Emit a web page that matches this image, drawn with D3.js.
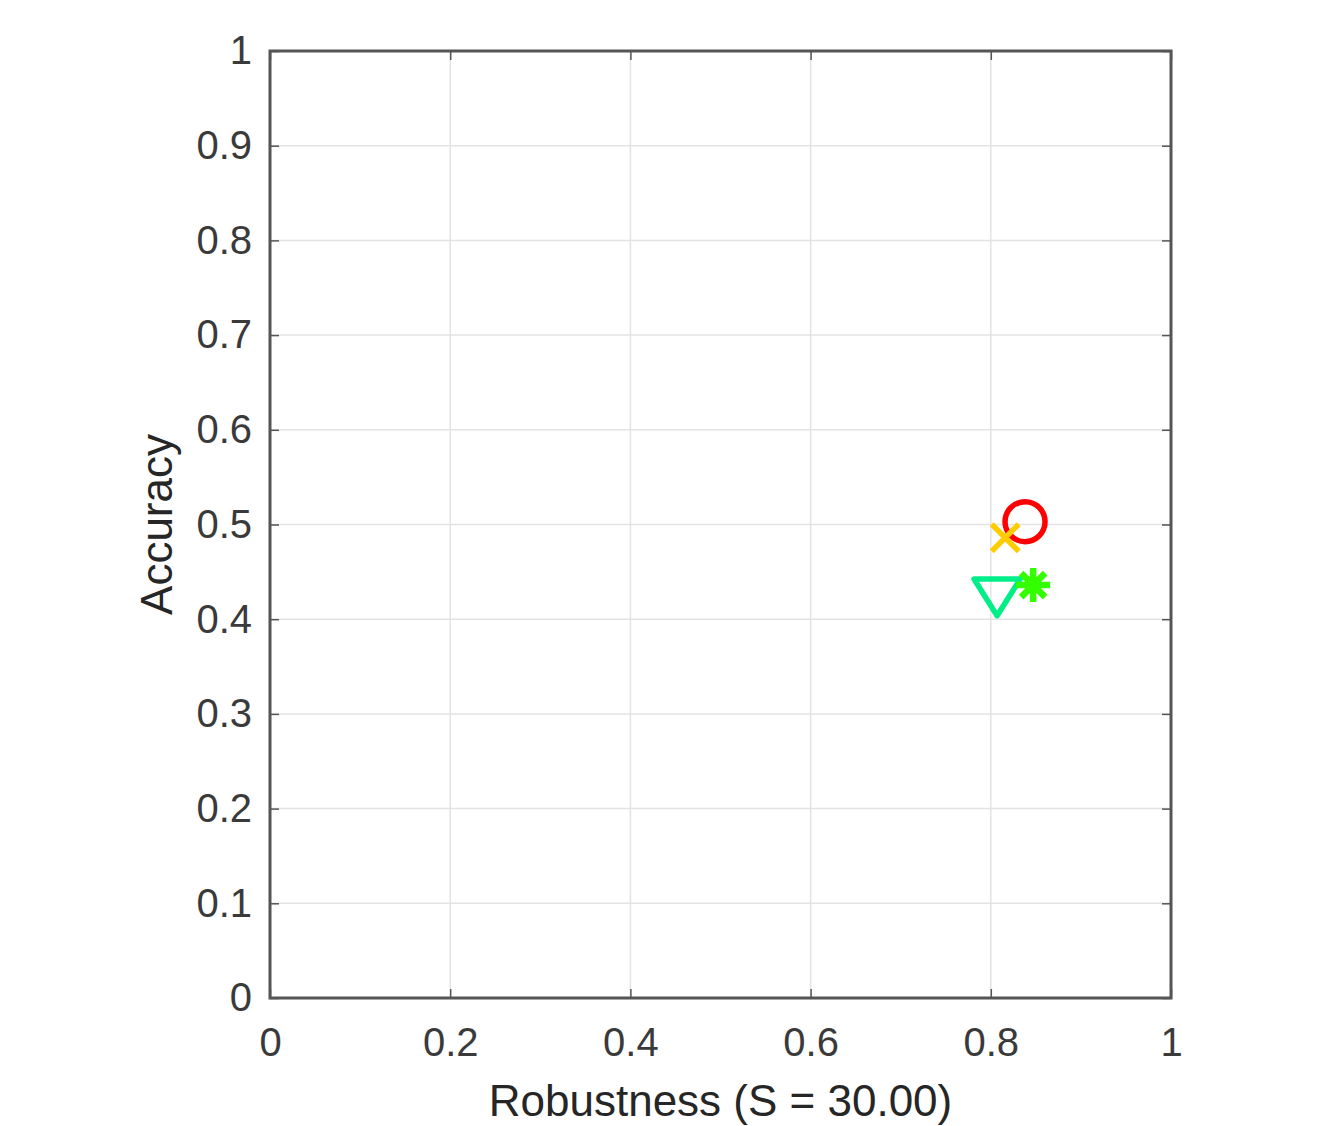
<!DOCTYPE html>
<html>
<head>
<meta charset="utf-8">
<script src="https://cdn.jsdelivr.net/npm/d3@7"></script>
<style>
  body { margin: 0; background: #fff; }
  text { font-family: "Liberation Sans", Arial, sans-serif; }
</style>
</head>
<body>
<div id="chart"></div>
<script>
// Points
const names = ['circle', 'cross', 'triangle', 'asterisk'];
const robustness = [0.838, 0.816, 0.807, 0.847];
const accuracy = [0.503, 0.486, 0.423, 0.436];
const colors = ['#ff0000', '#ffcc00', '#00ee88', '#33ff00'];
const xTicks = [0, 0.2, 0.4, 0.6, 0.8, 1];
const yTicks = [0, 0.1, 0.2, 0.3, 0.4, 0.5, 0.6, 0.7, 0.8, 0.9, 1];

const width = 1337, height = 1126;
const margin = { left: 270, top: 51, right: 166, bottom: 128 };
const innerW = width - margin.left - margin.right;
const innerH = height - margin.top - margin.bottom;

const svg = d3.select('#chart').append('svg')
  .attr('width', width)
  .attr('height', height);

const g = svg.append('g').attr('transform', `translate(${margin.left},${margin.top})`);

const x = d3.scaleLinear().domain([0, 1]).range([0, innerW]);
const y = d3.scaleLinear().domain([0, 1]).range([innerH, 0]);

const fmt = d => d === 0 || d === 1 ? String(d) : d3.format('.1f')(d);

// grid
g.append('g').selectAll('line').data(xTicks).join('line')
  .attr('x1', d => x(d)).attr('x2', d => x(d))
  .attr('y1', 0).attr('y2', innerH)
  .attr('stroke', '#e3e3e3').attr('stroke-width', 1.5);
g.append('g').selectAll('line').data(yTicks).join('line')
  .attr('y1', d => y(d)).attr('y2', d => y(d))
  .attr('x1', 0).attr('x2', innerW)
  .attr('stroke', '#e3e3e3').attr('stroke-width', 1.5);

// axes, MATLAB style: ticks inside, box on
const axisColor = '#555';
const styleAxis = sel => {
  sel.select('.domain').remove();
  sel.selectAll('.tick line').attr('stroke', axisColor).attr('stroke-width', 1.5);
  sel.selectAll('.tick text').attr('fill', '#3a3a3a').style('font-size', '40px');
};

g.append('g').attr('transform', `translate(0,${innerH})`)
  .call(d3.axisBottom(x).tickValues(xTicks).tickFormat(fmt).tickSizeInner(-9).tickPadding(30))
  .call(styleAxis);
g.append('g')
  .call(d3.axisTop(x).tickValues(xTicks).tickFormat('').tickSizeInner(-9))
  .call(styleAxis);
g.append('g')
  .call(d3.axisLeft(y).tickValues(yTicks).tickFormat(fmt).tickSizeInner(-9).tickPadding(18))
  .call(styleAxis);
g.append('g').attr('transform', `translate(${innerW},0)`)
  .call(d3.axisRight(y).tickValues(yTicks).tickFormat('').tickSizeInner(-9))
  .call(styleAxis);

g.append('rect')
  .attr('width', innerW).attr('height', innerH)
  .attr('fill', 'none').attr('stroke', axisColor).attr('stroke-width', 3);

// markers
const markerPath = (type, s) => {
  if (type === 'circle') return d3.symbol(d3.symbolCircle, Math.PI * s * s)();
  if (type === 'cross') return `M${-s},${-s}L${s},${s}M${-s},${s}L${s},${-s}`;
  if (type === 'triangle') {
    const h = s * 1.75;
    return `M${-s * 1.1},${-h / 2}L${s * 1.1},${-h / 2}L0,${h / 2}Z`;
  }
  // asterisk
  let p = '';
  for (let i = 0; i < 4; i++) {
    const a = i * Math.PI / 4;
    p += `M${-s * Math.cos(a)},${-s * Math.sin(a)}L${s * Math.cos(a)},${s * Math.sin(a)}`;
  }
  return p;
};
const sizes = [20, 13.5, 21, 17];

g.append('g').selectAll('path').data(names).join('path')
  .attr('transform', (d, i) => `translate(${x(robustness[i])},${y(accuracy[i])})`)
  .attr('d', (d, i) => markerPath(d, sizes[i]))
  .attr('fill', 'none')
  .attr('stroke', (d, i) => colors[i])
  .attr('stroke-width', (d, i) => d === 'asterisk' ? 6.5 : 5.5)
  .attr('stroke-linejoin', 'round');

// labels
svg.append('text')
  .attr('x', margin.left + innerW / 2)
  .attr('y', 1116)
  .attr('text-anchor', 'middle')
  .attr('fill', '#262626')
  .style('font-size', '44px')
  .text('Robustness (S = 30.00)');

svg.append('text')
  .attr('transform', `translate(172,${margin.top + innerH / 2}) rotate(-90)`)
  .attr('text-anchor', 'middle')
  .attr('fill', '#262626')
  .style('font-size', '44px')
  .text('Accuracy');
</script>
</body>
</html>
